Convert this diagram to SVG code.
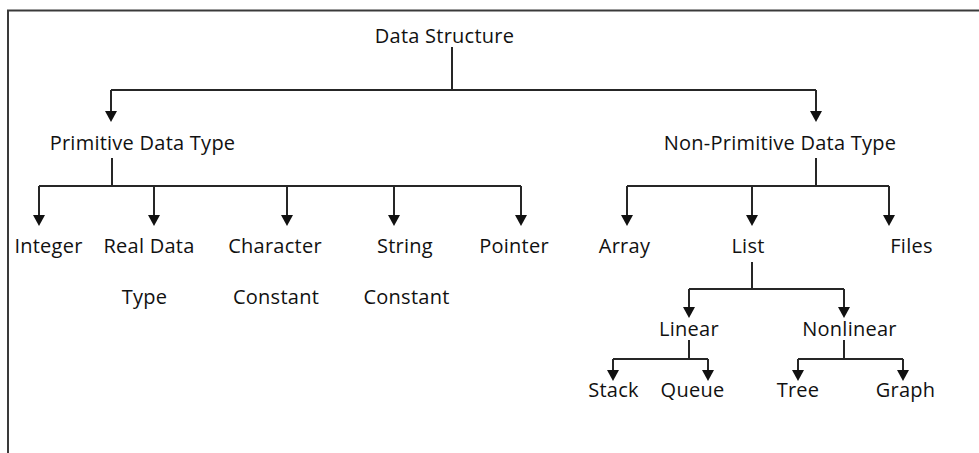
<svg xmlns="http://www.w3.org/2000/svg" width="979" height="453" viewBox="0 0 979 453">
<style>
text{font-family:"Open Sans","Noto Sans","Liberation Sans",sans-serif;font-size:20px;letter-spacing:0.25px;fill:#111;text-anchor:middle}
.c{fill:none;stroke:#262626;stroke-width:2}
.b{fill:none;stroke:#3a3a3a;stroke-width:2}
</style>
<defs>
<marker id="ah" viewBox="0 0 11 12" refX="5" refY="6" markerWidth="11" markerHeight="12" markerUnits="userSpaceOnUse" orient="auto">
<path d="M0,0 L11,6 L0,12 z" fill="#111"/>
</marker>
</defs>
<rect width="979" height="453" fill="#fff"/>
<path class="b" d="M8,453 V10.5 H979"/>
<g id="connectors">
<path class="c" d="M452,47 V90 M111,90 H816"/>
<path class="c" d="M111,90 V116" marker-end="url(#ah)"/>
<path class="c" d="M816,90 V116" marker-end="url(#ah)"/>
<path class="c" d="M112,158 V186 M39,186 H521"/>
<path class="c" d="M39,186 V220" marker-end="url(#ah)"/>
<path class="c" d="M154,186 V220" marker-end="url(#ah)"/>
<path class="c" d="M287,186 V220" marker-end="url(#ah)"/>
<path class="c" d="M394,186 V220" marker-end="url(#ah)"/>
<path class="c" d="M521,186 V220" marker-end="url(#ah)"/>
<path class="c" d="M816,158 V186 M627,186 H889"/>
<path class="c" d="M627,186 V220" marker-end="url(#ah)"/>
<path class="c" d="M752,186 V220" marker-end="url(#ah)"/>
<path class="c" d="M889,186 V220" marker-end="url(#ah)"/>
<path class="c" d="M752,262 V289 M689,289 H844"/>
<path class="c" d="M689,289 V312" marker-end="url(#ah)"/>
<path class="c" d="M844,289 V312" marker-end="url(#ah)"/>
<path class="c" d="M689,340 V359 M613,359 H708"/>
<path class="c" d="M613,359 V375" marker-end="url(#ah)"/>
<path class="c" d="M708,359 V375" marker-end="url(#ah)"/>
<path class="c" d="M844,340 V359 M798,359 H903"/>
<path class="c" d="M798,359 V375" marker-end="url(#ah)"/>
<path class="c" d="M903,359 V375" marker-end="url(#ah)"/>
</g>
<g id="data-structure"><text x="444.5" y="43">Data Structure</text></g>
<g id="primitive"><text x="142.5" y="150">Primitive Data Type</text></g>
<g id="non-primitive"><text x="780" y="150">Non-Primitive Data Type</text></g>
<g id="integer"><text x="48.5" y="253">Integer</text></g>
<g id="real"><text x="149" y="253">Real Data</text><text x="144.5" y="304">Type</text></g>
<g id="character"><text x="275" y="253">Character</text><text x="276" y="304">Constant</text></g>
<g id="string"><text x="405" y="253">String</text><text x="406.5" y="304">Constant</text></g>
<g id="pointer"><text x="514" y="253">Pointer</text></g>
<g id="array"><text x="624.5" y="253">Array</text></g>
<g id="list"><text x="748" y="253">List</text></g>
<g id="files"><text x="911.5" y="253">Files</text></g>
<g id="linear"><text x="689" y="336">Linear</text></g>
<g id="nonlinear"><text x="849.5" y="336">Nonlinear</text></g>
<g id="stack"><text x="613.5" y="397">Stack</text></g>
<g id="queue"><text x="692.5" y="397">Queue</text></g>
<g id="tree"><text x="798" y="397">Tree</text></g>
<g id="graph"><text x="905.5" y="397">Graph</text></g>
</svg>
